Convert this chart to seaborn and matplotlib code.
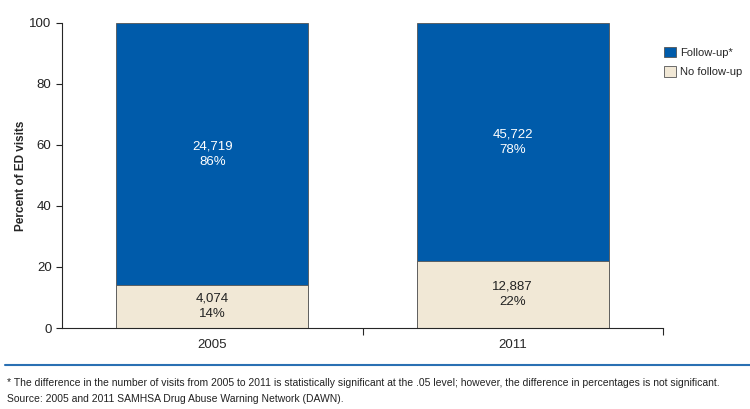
import matplotlib
matplotlib.use("Agg")
import matplotlib.pyplot as plt
import pandas as pd
import seaborn as sns
from matplotlib.lines import Line2D
from matplotlib.patches import Patch

# ---------------------------------------------------------------------------
# Data
# ---------------------------------------------------------------------------
years = ["2005", "2011"]
follow_up_counts = ["24,719", "45,722"]
no_follow_up_counts = ["4,074", "12,887"]
follow_up_pct = [86, 78]
no_follow_up_pct = [14, 22]
y_ticks = [0, 20, 40, 60, 80, 100]

BLUE = "#005BAA"
TAN = "#F1E8D6"
EDGE = "#555555"

sns.set_style("ticks")
plt.rcParams["font.family"] = ["Liberation Sans Narrow", "Liberation Sans", "DejaVu Sans"]

df = pd.DataFrame({
    "year": years,
    "total": [a + b for a, b in zip(follow_up_pct, no_follow_up_pct)],
    "no_follow": no_follow_up_pct,
})

fig = plt.figure(figsize=(7.5, 4.09), dpi=100)
ax = fig.add_axes([0.0827, 0.198, 0.8013, 0.746])

sns.barplot(data=df, x="year", y="total", color=BLUE, width=0.64,
            edgecolor=EDGE, linewidth=0.6, saturation=1, ax=ax)
sns.barplot(data=df, x="year", y="no_follow", color=TAN, width=0.64,
            edgecolor=EDGE, linewidth=0.6, saturation=1, ax=ax)

for i in range(len(years)):
    top_mid = no_follow_up_pct[i] + follow_up_pct[i] / 2
    ax.text(i, top_mid, f"{follow_up_counts[i]}\n{follow_up_pct[i]}%",
            ha="center", va="center", color="white", fontsize=9.5, linespacing=1.4)
    ax.text(i, no_follow_up_pct[i] / 2, f"{no_follow_up_counts[i]}\n{no_follow_up_pct[i]}%",
            ha="center", va="center", color="#222222", fontsize=9.5, linespacing=1.4)

ax.set_xlim(-0.5, 1.5)
ax.set_ylim(0, 100)
ax.set_yticks(y_ticks)
ax.tick_params(axis="y", labelsize=9.5, length=4, width=0.8, colors="#222222")
ax.tick_params(axis="x", which="major", length=0, labelsize=9.5, pad=8)
ax.set_xticks([0.5, 1.5], minor=True)
ax.tick_params(axis="x", which="minor", length=5, width=0.8, direction="out")
ax.set_xlabel("")
ax.set_ylabel("Percent of ED visits", fontsize=8.5, fontweight="bold", labelpad=2)
sns.despine(ax=ax)
ax.spines["left"].set_linewidth(0.8)
ax.spines["bottom"].set_linewidth(0.8)

handles = [Patch(facecolor=BLUE, edgecolor=EDGE, linewidth=0.6, label="Follow-up*"),
           Patch(facecolor=TAN, edgecolor=EDGE, linewidth=0.6, label="No follow-up")]
fig.legend(handles=handles, loc="upper left", bbox_to_anchor=(0.872, 0.91),
           frameon=False, fontsize=8, handlelength=1.1, handleheight=1.1,
           handletextpad=0.35, labelspacing=0.75)

fig.add_artist(Line2D([0.007, 1.0], [1 - 365 / 409, 1 - 365 / 409],
                      color="#2A70B3", linewidth=1.5, transform=fig.transFigure))
fig.text(0.009, 1 - 383 / 409,
         "* The difference in the number of visits from 2005 to 2011 is statistically significant "
         "at the .05 level; however, the difference in percentages is not significant.",
         fontsize=7.5, va="center", color="#222222")
fig.text(0.009, 1 - 399 / 409,
         "Source: 2005 and 2011 SAMHSA Drug Abuse Warning Network (DAWN).",
         fontsize=7.5, va="center", color="#222222")

fig.savefig("out.png", dpi=100)
